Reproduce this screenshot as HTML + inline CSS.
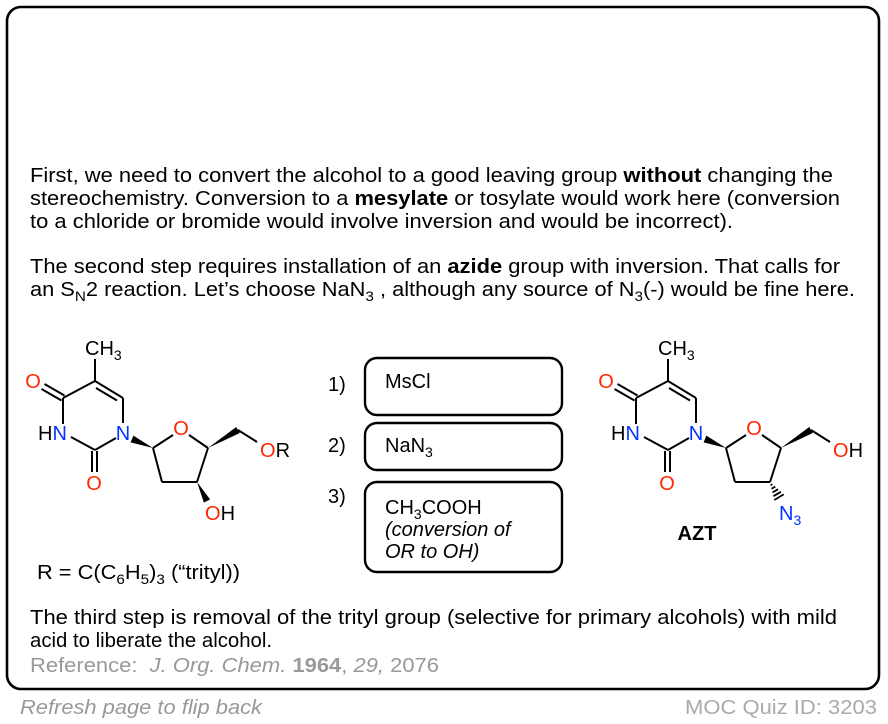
<!DOCTYPE html>
<html><head><meta charset="utf-8"><style>
html,body{margin:0;padding:0;background:#fff;}
svg{display:block;}
text{font-family:"Liberation Sans",Arial,sans-serif;}
</style></head><body>
<svg width="888" height="724" viewBox="0 0 888 724" xmlns="http://www.w3.org/2000/svg">
<rect x="7" y="7" width="872" height="682" rx="14" ry="14" fill="#fff" stroke="#000" stroke-width="2.6"/>

<g fill="#000">
<text x="30" y="182" font-size="20" textLength="803" lengthAdjust="spacingAndGlyphs">First, we need to convert the alcohol to a good leaving group <tspan font-weight="bold">without</tspan> changing the</text>
<text x="30" y="205" font-size="20" textLength="810" lengthAdjust="spacingAndGlyphs">stereochemistry. Conversion to a <tspan font-weight="bold">mesylate</tspan> or tosylate would work here (conversion</text>
<text x="30" y="228" font-size="20" textLength="703" lengthAdjust="spacingAndGlyphs">to a chloride or bromide would involve inversion and would be incorrect).</text>
<text x="30" y="273" font-size="20" textLength="810" lengthAdjust="spacingAndGlyphs">The second step requires installation of an <tspan font-weight="bold">azide</tspan> group with inversion. That calls for</text>
<text x="30" y="296" font-size="20" textLength="825" lengthAdjust="spacingAndGlyphs"><tspan font-size="20">an S</tspan><tspan font-size="14" dy="5">N</tspan><tspan font-size="20" dy="-5">2 reaction. Let’s choose NaN</tspan><tspan font-size="14" dy="5">3</tspan><tspan font-size="20" dy="-5"> , although any source of N</tspan><tspan font-size="14" dy="5">3</tspan><tspan font-size="20" dy="-5">(-) would be fine here.</tspan></text>
<text x="30" y="624" font-size="20" textLength="807" lengthAdjust="spacingAndGlyphs">The third step is removal of the trityl group (selective for primary alcohols) with mild</text>
<text x="30" y="647" font-size="20" textLength="242" lengthAdjust="spacingAndGlyphs">acid to liberate the alcohol.</text>
</g>

<text x="30" y="672" font-size="20" fill="#999" textLength="409" lengthAdjust="spacingAndGlyphs">Reference:&#160; <tspan font-style="italic">J. Org. Chem.</tspan> <tspan font-weight="bold">1964</tspan>, <tspan font-style="italic">29,</tspan> 2076</text>
<text x="20" y="714" font-size="20" fill="#999" font-style="italic" textLength="242" lengthAdjust="spacingAndGlyphs">Refresh page to flip back</text>
<text x="877" y="714" font-size="20" fill="#aaa" text-anchor="end" textLength="192" lengthAdjust="spacingAndGlyphs">MOC Quiz ID: 3203</text>

<!-- reagent boxes -->
<g fill="none" stroke="#000" stroke-width="2.4">
<rect x="365" y="358" width="197" height="57" rx="12"/>
<rect x="365" y="423" width="197" height="47" rx="12"/>
<rect x="365" y="482" width="197" height="90" rx="12"/>
</g>
<g fill="#000">
<text x="328" y="391" font-size="20">1)</text>
<text x="385" y="388" font-size="20">MsCl</text>
<text x="328" y="452" font-size="20">2)</text>
<text x="385" y="452" font-size="20"><tspan font-size="20">NaN</tspan><tspan font-size="14" dy="5">3</tspan></text>
<text x="328" y="503" font-size="20">3)</text>
<text x="385" y="514" font-size="20"><tspan font-size="20">CH</tspan><tspan font-size="14" dy="5">3</tspan><tspan font-size="20" dy="-5">COOH</tspan></text>
<text x="385" y="536" font-size="20" font-style="italic">(conversion of</text>
<text x="385" y="558" font-size="20" font-style="italic">OR to OH)</text>
</g>

<!-- molecule template -->
<defs>
<g id="mol">
 <g stroke="#000" stroke-width="2" fill="none" stroke-linecap="butt">
  <line x1="95" y1="359" x2="95" y2="381"/>
  <line x1="63" y1="398" x2="95" y2="381"/>
  <line x1="95" y1="381" x2="123" y2="398"/>
  <line x1="96" y1="388" x2="117" y2="400.5"/>
  <line x1="123" y1="398" x2="123" y2="423"/>
  <line x1="116" y1="438" x2="95" y2="450"/>
  <line x1="95" y1="450" x2="71" y2="437"/>
  <line x1="63" y1="424" x2="63" y2="398"/>
  <line x1="64.5" y1="395.5" x2="44.5" y2="384"/>
  <line x1="61.5" y1="400.5" x2="41.5" y2="389"/>
  <line x1="92" y1="451" x2="92" y2="472"/>
  <line x1="97" y1="451" x2="97" y2="472"/>
  <line x1="153" y1="448" x2="173" y2="435"/>
  <line x1="189" y1="435" x2="208" y2="448"/>
  <line x1="208" y1="448" x2="197" y2="482"/>
  <line x1="197" y1="482" x2="162" y2="482"/>
  <line x1="162" y1="482" x2="153" y2="448"/>
  <line x1="238" y1="430" x2="257" y2="442"/>
 </g>
 <g fill="#000">
  <polygon points="153,448 133.4,435.6 130.6,442.4"/>
  <polygon points="208,448 239.8,433 236.2,427"/>
 </g>
 <g>
  <text x="85" y="355" font-size="20" fill="#000"><tspan font-size="20">CH</tspan><tspan font-size="14" dy="5">3</tspan></text>
  <text x="33" y="388" font-size="20" fill="#ff2600" text-anchor="middle">O</text>
  <text x="38" y="440" font-size="20" fill="#000"><tspan font-size="20">H</tspan><tspan font-size="20" fill="#0433ff">N</tspan></text>
  <text x="123" y="440" font-size="20" fill="#0433ff" text-anchor="middle">N</text>
  <text x="94" y="490" font-size="20" fill="#ff2600" text-anchor="middle">O</text>
  <text x="181" y="435" font-size="20" fill="#ff2600" text-anchor="middle">O</text>
 </g>
</g>
</defs>

<use href="#mol"/>
<use href="#mol" transform="translate(573,0)"/>

<!-- left specifics -->
<text x="260" y="457" font-size="20" fill="#ff2600"><tspan font-size="20">O</tspan><tspan font-size="20" fill="#000">R</tspan></text>
<polygon points="197,482 210.1,499.4 203.9,502.6" fill="#000"/>
<text x="205" y="520" font-size="20" fill="#ff2600"><tspan font-size="20">O</tspan><tspan font-size="20" fill="#000">H</tspan></text>
<text x="37" y="579" font-size="20" fill="#000" textLength="203" lengthAdjust="spacingAndGlyphs"><tspan font-size="20">R = C(C</tspan><tspan font-size="14" dy="5">6</tspan><tspan font-size="20" dy="-5">H</tspan><tspan font-size="14" dy="5">5</tspan><tspan font-size="20" dy="-5">)</tspan><tspan font-size="14" dy="5">3</tspan><tspan font-size="20" dy="-5"> (“trityl))</tspan></text>

<!-- right specifics -->
<text x="833" y="457" font-size="20" fill="#ff2600"><tspan font-size="20">O</tspan><tspan font-size="20" fill="#000">H</tspan></text>
<g stroke="#000" stroke-width="1.8">
 <line x1="770.6" y1="485.2" x2="772.4" y2="484.2"/>
 <line x1="771.5" y1="488.8" x2="775.3" y2="486.6"/>
 <line x1="772.5" y1="492.5" x2="778.1" y2="489.2"/>
 <line x1="773.4" y1="496.2" x2="780.9" y2="491.8"/>
 <line x1="774.3" y1="500" x2="783.7" y2="494.4"/>
</g>
<text x="779" y="520" font-size="20" fill="#0433ff"><tspan font-size="20">N</tspan><tspan font-size="14" dy="5">3</tspan></text>
<text x="697" y="540" font-size="20" font-weight="bold" fill="#000" text-anchor="middle">AZT</text>
</svg>
</body></html>
